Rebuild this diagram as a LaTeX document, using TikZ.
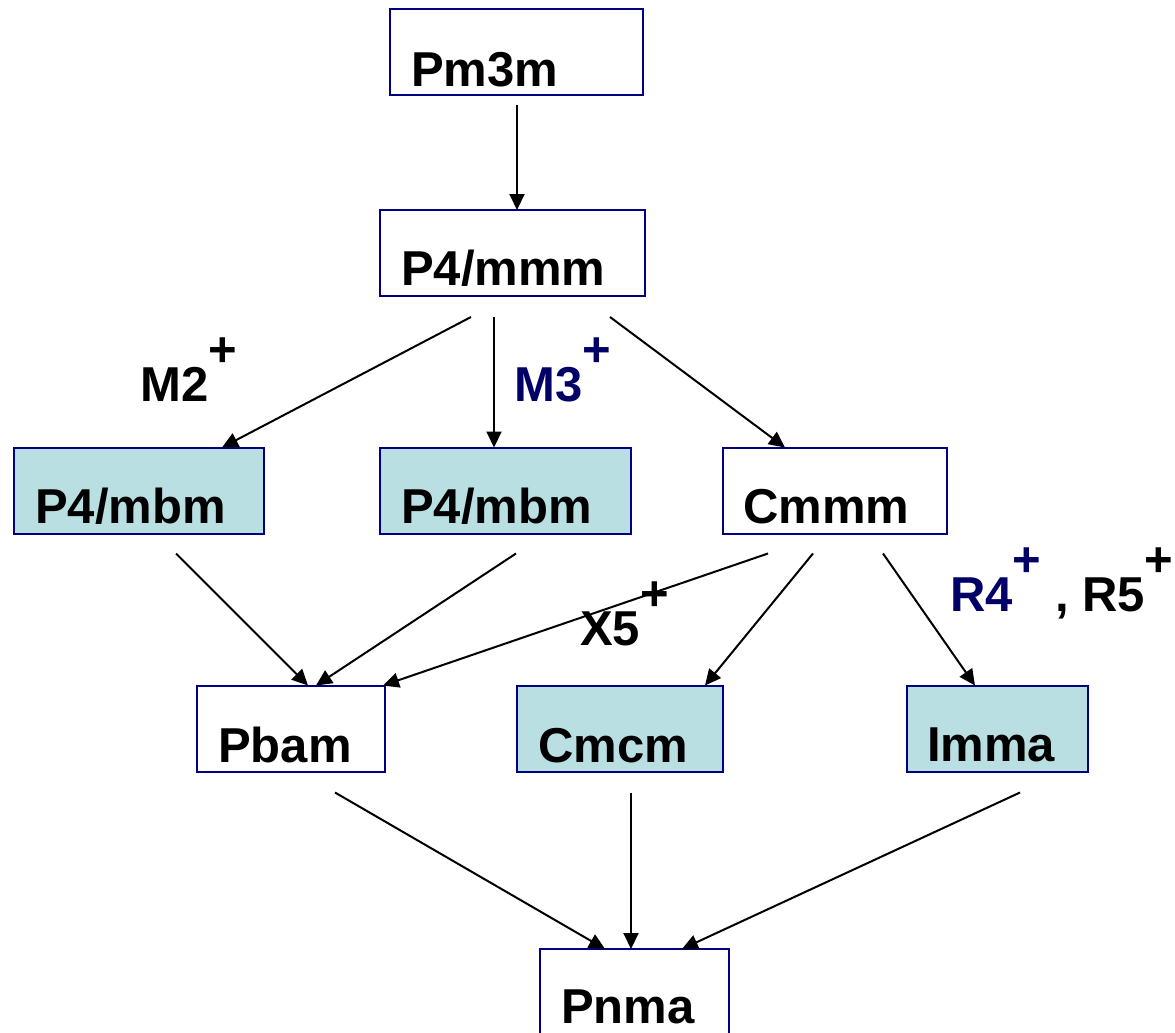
\documentclass[tikz,border=0pt]{standalone}
\usepackage{fontspec}
\setmainfont{Liberation Sans}
\usetikzlibrary{arrows.meta,calc}
\definecolor{boxline}{HTML}{000080}
\definecolor{boxfill}{HTML}{BADFE2}
\definecolor{navytext}{HTML}{000066}
\tikzset{
  box/.style={draw=boxline, line width=2pt, rectangle, inner sep=0pt, outer sep=0pt, minimum height=86pt},
  shaded/.style={box, fill=boxfill},
  boxtext/.style={anchor=base west, inner sep=0pt, font=\bfseries\fontsize{49}{58}\selectfont},
  lbl/.style={anchor=base west, inner sep=0pt, font=\bfseries\fontsize{49}{58}\selectfont},
  arr/.style={line width=2pt, -{Triangle[length=16pt,width=15pt]}},
}
\newcommand{\plusup}{\raisebox{35pt}{+}}
\begin{document}
\begin{tikzpicture}[x=1pt,y=-1pt]
\useasboundingbox (0,0) rectangle (1175,1033);
% boxes
\node[box, minimum width=253pt] (pm3m) at (516.5,52) {};
\node[box, minimum width=265pt] (p4mmm) at (512.5,253) {};
\node[shaded, minimum width=250pt] (p4mbmA) at (139,490.5) {};
\node[shaded, minimum width=251pt] (p4mbmB) at (505.5,490.5) {};
\node[box, minimum width=224pt] (cmmm) at (835,490.5) {};
\node[box, minimum width=188pt] (pbam) at (291,728.5) {};
\node[shaded, minimum width=206pt] (cmcm) at (620,728.5) {};
\node[shaded, minimum width=181pt] (imma) at (997.5,728.5) {};
\node[box, minimum width=189pt] (pnma) at (634.5,992) {};
% box texts
\node[boxtext] (pm3m-t) at ($(pm3m.south west)+(21,-9)$) {Pm3m};
\node[boxtext] (p4mmm-t) at ($(p4mmm.south west)+(21,-11)$) {P4/mmm};
\node[boxtext] (p4mbmA-t) at ($(p4mbmA.south west)+(21,-10)$) {P4/mbm};
\node[boxtext] (p4mbmB-t) at ($(p4mbmB.south west)+(21,-10)$) {P4/mbm};
\node[boxtext] (cmmm-t) at ($(cmmm.south west)+(20,-10)$) {Cmmm};
\node[boxtext] (pbam-t) at ($(pbam.south west)+(21,-9)$) {Pbam};
\node[boxtext] (cmcm-t) at ($(cmcm.south west)+(21,-9)$) {Cmcm};
\node[boxtext] (imma-t) at ($(imma.south west)+(20,-10)$) {Imma};
\node[boxtext] (pnma-t) at ($(pnma.south west)+(21,-12)$) {Pnma};
% connectors
\draw[arr] ($(pm3m.south)+(0.5,10)$) -- ($(p4mmm.north west)+(137,0)$);
\draw[arr] ($(p4mmm.south west)+(91,21)$) -- ($(p4mbmA.north west)+(208,0)$);
\draw[arr] ($(p4mmm.south west)+(114,21)$) -- ($(p4mbmB.north west)+(114,0)$);
\draw[arr] ($(p4mmm.south west)+(230,21)$) -- ($(cmmm.north west)+(62,0)$);
\draw[arr] ($(p4mbmA.south west)+(162,20)$) -- ($(pbam.north west)+(111,0)$);
\draw[arr] ($(p4mbmB.south west)+(136,20)$) -- ($(pbam.north west)+(119,0)$);
\draw[arr] ($(cmmm.south west)+(45,20)$) -- ($(pbam.north east)+(-2,0)$);
\draw[arr] ($(cmmm.south west)+(90,20)$) -- ($(cmcm.north west)+(188,0)$);
\draw[arr] ($(cmmm.south west)+(160,20)$) -- ($(imma.north west)+(68,0)$);
\draw[arr] ($(pbam.south west)+(138,21)$) -- ($(pnma.north west)+(65,0)$);
\draw[arr] ($(cmcm.south west)+(114,21)$) -- ($(pnma.north west)+(91,0)$);
\draw[arr] ($(imma.south west)+(113,21)$) -- ($(pnma.north west)+(142,0)$);
% labels
\node[lbl] (m2) at (140,401) {M2\plusup};
\node[lbl, text=navytext] (m3) at (514,401) {M3\plusup};
\node[lbl] (x5) at (580,645) {X5\plusup};
\node[lbl] (r45) at (950,611) {\textcolor{navytext}{R4\plusup} , R5\plusup};
\end{tikzpicture}
\end{document}
